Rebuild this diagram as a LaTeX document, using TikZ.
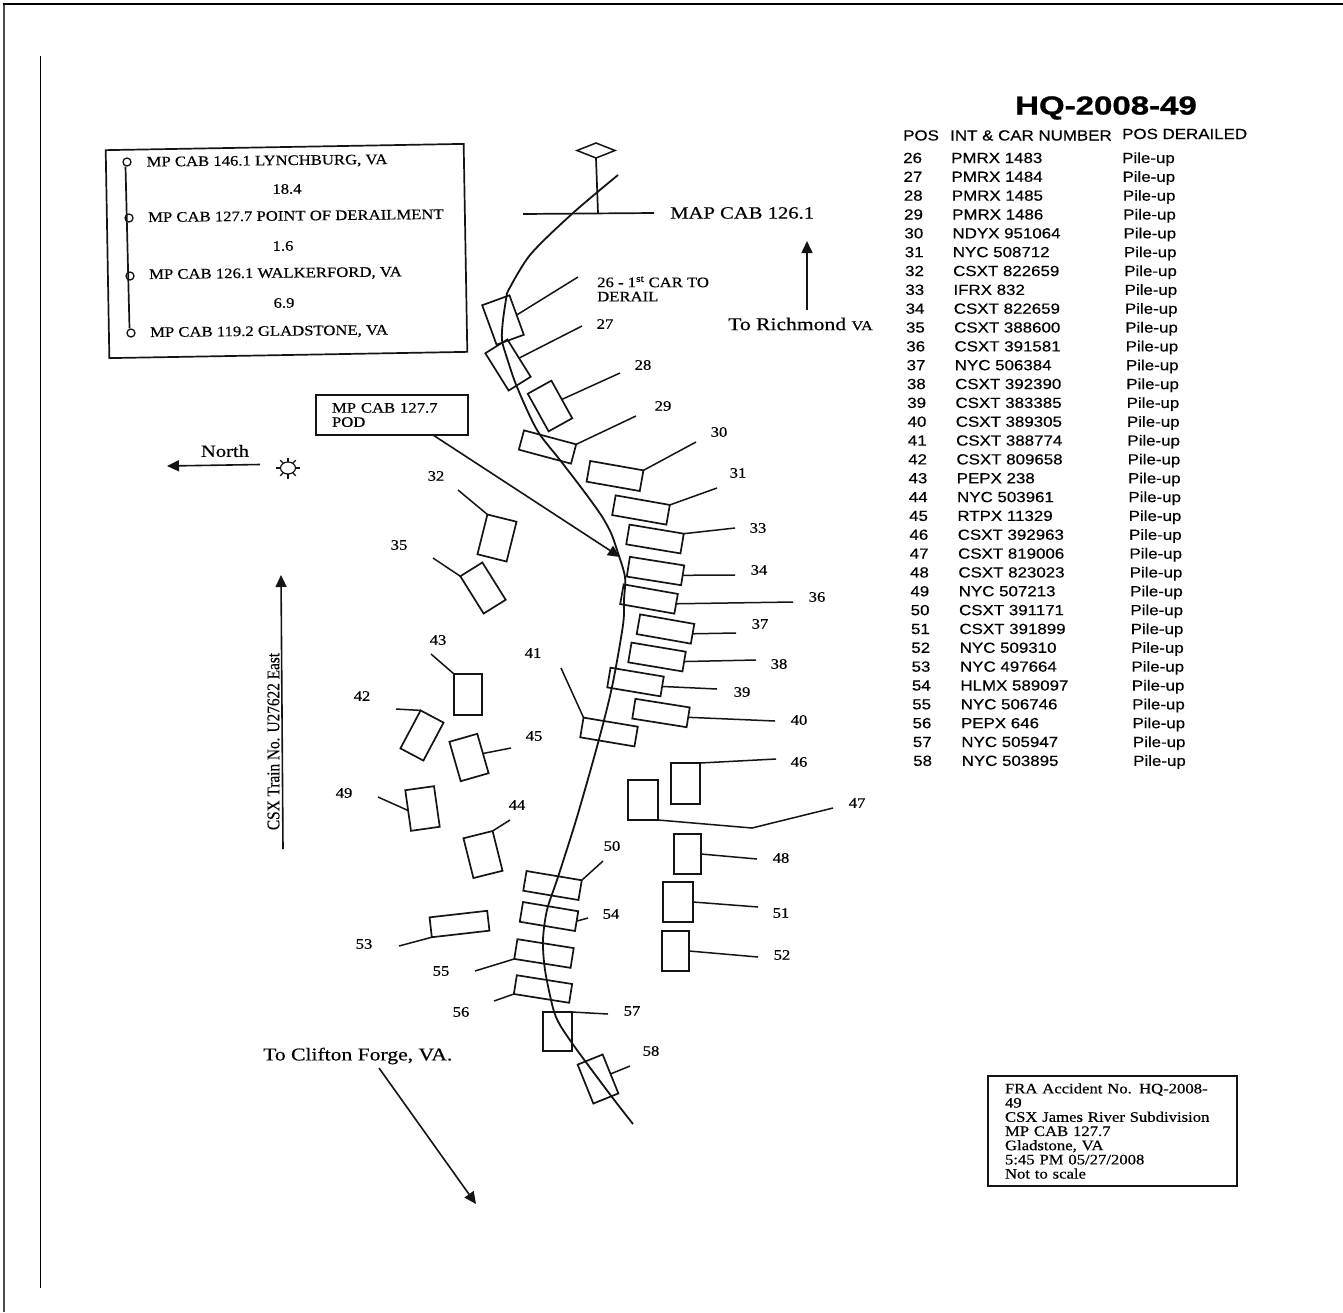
\documentclass[tikz,border=0pt]{standalone}
\usepackage{fontspec}
\usetikzlibrary{arrows.meta,shapes.geometric,calc}
\setmainfont{Liberation Serif}
\newfontfamily\serifbase[FakeStretch=1.15,FakeBold=0.45]{Liberation Serif}
\newfontfamily\serifwide[FakeStretch=1.2,FakeBold=0.45]{Liberation Serif}
\newfontfamily\serifnarrow[FakeStretch=0.85,FakeBold=0.25]{Liberation Serif}
\newfontfamily\sansbase[FakeStretch=1.15,FakeBold=0.35]{Liberation Sans}
\newfontfamily\sanstitle[FakeStretch=1.27,FakeBold=1]{Liberation Sans Bold}
\newcommand\lblf{\serifbase\fontsize{14.5}{14.2}\selectfont}
\newcommand\lblbigf{\serifwide\fontsize{18}{20}\selectfont}
\newcommand\lblmidf{\serifwide\fontsize{17.2}{20}\selectfont}
\newcommand\tblf{\sansbase\fontsize{14.7}{16}\selectfont}
\tikzset{
  ink/.style={draw=black!92,line width=1.7pt},
  carbox/.style={draw=black!92,line width=1.7pt,inner sep=0pt,outer sep=0pt},
  leader/.style={draw=black!92,line width=1.5pt},
  trackline/.style={draw=black!92,line width=1.8pt},
  arrowline/.style={draw=black!92,line width=1.6pt,-{Triangle[length=12pt,width=11pt]}},
  numlabel/.style={font=\lblf,inner sep=0pt},
  biglabel/.style={font=\lblbigf,inner sep=0pt},
  midlabel/.style={font=\lblmidf,inner sep=0pt},
  tbl/.style={font=\tblf,inner sep=0pt,anchor=base west},
  legtext/.style={font=\lblf,inner sep=0pt,anchor=base west,rotate=0.6},
  legcenter/.style={font=\lblf,inner sep=0pt,rotate=0.6},
  mark node/.style={circle,draw=black!92,line width=1.3pt,minimum size=8pt,inner sep=0pt,fill=white},
}
\begin{document}
\begin{tikzpicture}[x=1pt,y=-1pt]
\useasboundingbox (0,0) rectangle (1343,1312);
\fill[white] (0,0) rectangle (1343,1312);
% page frame
\draw[draw=black!70,line width=2pt] (3.5,1312) -- (3.5,4);
\draw[draw=black,line width=2pt] (3,4) -- (1343,4);
\draw[draw=black,line width=1.3pt] (40.5,56) -- (40.5,1288);

% legend box
\node[carbox,rotate=1,minimum width=358pt,minimum height=208pt] (legend) at (286.5,251) {};
\node[mark node] (m1) at (127,162) {};
\node[mark node] (m2) at (129,218) {};
\node[mark node] (m3) at (130,276) {};
\node[mark node] (m4) at (131,333) {};
\draw[ink] ([xshift=-1.5pt]m1.south) -- ([xshift=-1.5pt]m4.north);
\node[legtext] (l1) at (146.5,166.5) {MP CAB 146.1 LYNCHBURG, VA};
\node[legcenter] (l2) at (287,189) {18.4};
\node[legtext] (l3) at (148,222) {MP CAB 127.7 POINT OF DERAILMENT};
\node[legcenter] (l4) at (283,246) {1.6};
\node[legtext] (l5) at (149,279) {MP CAB 126.1 WALKERFORD, VA};
\node[legcenter] (l6) at (284,303) {6.9};
\node[legtext] (l7) at (150,337) {MP CAB 119.2 GLADSTONE, VA};

% milepost
\node[diamond,draw=black!92,line width=1.5pt,aspect=2.5,minimum width=38pt,minimum height=15pt,inner sep=0pt,outer sep=0pt] (post) at (596,150.5) {};
\coordinate (postfoot) at (598,213);
\coordinate (crossL) at (523,214);
\coordinate (crossR) at (654,213);
\draw[ink] (post.south) -- (postfoot);
\draw[ink] (crossL) -- (crossR);
\node[midlabel,anchor=west] (mapcab) at (670,213) {MAP CAB 126.1};

% track
\draw[trackline] plot[smooth,tension=0.5] coordinates {(618,175) (573,213) (530,255) (507,293)};
\draw[trackline] plot[smooth,tension=0.5] coordinates {(507,293) (503,320) (502,340) (507,358) (517,387) (537,430) (560,460) (583,490) (601,515) (611,533) (618,553) (625,577) (624,600) (623,625) (612,687) (598,743) (577,817) (558,877) (547,910) (543,940) (545,970) (553,1008) (560,1025) (577,1050) (612,1097) (633,1124)};

% cars: id / x / y / w / h / rotation / leader anchor / leader end / label position
\foreach \Ci/\Cx/\Cy/\Cw/\Chh/\Cr/\Ca/\Ex/\Ey/\Lx/\Ly in {
 26/503/320/29/42/20/east/578/277/0/0,
 27/508/365/26/44/32/east/582/326/605/324,
 28/550/406/27/43/29/east/620/373/643/365,
 29/547.5/447/54/20/-15/north east/636/416/663/406,
 30/615/476/54/21/-10/north east/696/442/719/432,
 31/641/510/55/20/-10/north east/717/488/738/473,
 32/497/538/30/41/-14/north west/458/490/436/476,
 33/655/539/55/20/-9.5/north east/735/528/758/528,
 34/655.5/571/55/20/-9/east/735/575/759/570,
 35/483/588/26/44/32/north west/433/558/399/545,
 36/649/599/55/20/-10/east/793/602/817/597,
 37/665.5/629/55/20/-10/east/736/633/760/624,
 38/657/657/55/20/-9.5/east/756/660/779/664,
 39/635.5/682/54/20/-9.5/east/717/689/742/692,
 40/661/713/55/20/-9/east/775/721/799/720,
 41/609/732/55/20/-9.5/north west/561/668/533/653,
 42/422/735.5/26/43/-28/north west/396/709/362/696,
 43/468/694.5/28/41/0/north west/431/654/438/640,
 44/483/854.5/30/41/14/north east/510/820/517/805,
 45/469/757.5/29/41/16/east/511/748/534/736,
 46/685.5/783.5/29/41/0/north east/776/759/799/762,
 48/687.5/854/27/40/0/east/757/859/781/858,
 49/422.5/808.5/29/41/8/west/378/797/344/793,
 50/552.5/885.5/56/20/-9.5/north east/603/861/612/846,
 51/678/902/30/40/0/east/758/907/781/913,
 52/675.5/951/27/40/0/east/758/957/782/955,
 53/459.5/924/58/20/6.5/south west/399/946/364/944,
 54/549/916.5/56/20/-9.5/east/588/918/611/914,
 55/544/953.5/57/20/-9/south west/475/971/441/971,
 56/543/989/56/19/-9/south west/494/1001/461/1012,
 57/557.5/1031.5/29/39/0/north east/608/1014/632/1011,
 58/598/1079/27/42/22/east/630/1066/651/1051}
{
  \node[carbox,rotate=\Cr,minimum width=\Cw pt,minimum height=\Chh pt] (c\Ci) at (\Cx,\Cy) {};
  \coordinate (e\Ci) at (\Ex,\Ey);
  \draw[leader] (c\Ci.\Ca) -- (e\Ci);
  \ifnum\Ci=26\relax\else
    \node[numlabel] (t\Ci) at (\Lx,\Ly) {\Ci};
  \fi
}
% car 47 with its bent leader
\node[carbox,minimum width=30pt,minimum height=40pt] (c47) at (643,800) {};
\coordinate (b47) at (752,828);
\coordinate (e47) at (833,808);
\draw[leader] (c47.south east) -- (b47) -- (e47);
\node[numlabel] (t47) at (857,803) {47};

\node[numlabel,anchor=north west,align=left] (t26) at (597,276) {26 - 1\textsuperscript{st} CAR TO\\DERAIL};

% directions
\node[biglabel,anchor=west] (richmond) at (728,324) {To Richmond {\fontsize{13.5}{14}\selectfont VA}};
\coordinate (richbase) at (807,310);
\coordinate (richtip) at (807,241);
\draw[arrowline] (richbase) -- (richtip);

\node[carbox,minimum width=152pt,minimum height=40pt,text width=120pt,inner xsep=16pt,align=left,font=\lblf] (pod) at (392,415) {MP CAB 127.7\\POD};
\coordinate (podtip) at (620,557);
\draw[arrowline] ($(pod.south west)!0.77!(pod.south east)$) -- (podtip);

\node[midlabel] (north) at (225,451) {North};
\node[ellipse,draw=black!92,line width=1.2pt,minimum width=15pt,minimum height=12pt,inner sep=0pt,outer sep=0pt] (sun) at (288,468) {};
\foreach \a in {0,45,...,315} {\draw[draw=black!92,line width=1.1pt] (sun.\a) -- ++(-\a:4.5);}
\coordinate (nbase) at (260,464.5);
\coordinate (ntip) at (167,466);
\draw[arrowline] (nbase) -- (ntip);

\coordinate (csxbase) at (283,849);
\coordinate (csxtip) at (281,575);
\draw[arrowline] (csxbase) -- (csxtip);
\node[rotate=90,font=\serifnarrow\fontsize{18}{20}\selectfont,inner sep=0pt] (csx) at (273.5,741.5) {CSX Train No. U27622 East};

\node[biglabel,anchor=west] (clifton) at (263,1056) {To Clifton Forge, VA.};
\coordinate (cliftonbase) at (379,1068);
\coordinate (cliftontip) at (476,1204);
\draw[arrowline] (cliftonbase) -- (cliftontip);

% title and table
\node[font=\sanstitle\fontsize{26}{28}\selectfont,inner sep=0pt] (title) at (1106,108) {HQ-2008-49};
\node[tbl] (h1) at (903,140.5) {POS};
\node[tbl] (h2) at (950,140.5) {INT \& CAR NUMBER};
\node[tbl] (h3) at (1122,139) {POS DERAILED};
\foreach \n/\num [count=\k from 0] in {26/PMRX 1483,27/PMRX 1484,28/PMRX 1485,29/PMRX 1486,30/NDYX 951064,31/NYC 508712,32/CSXT 822659,33/IFRX 832,34/CSXT 822659,35/CSXT 388600,36/CSXT 391581,37/NYC 506384,38/CSXT 392390,39/CSXT 383385,40/CSXT 389305,41/CSXT 388774,42/CSXT 809658,43/PEPX 238,44/NYC 503961,45/RTPX 11329,46/CSXT 392963,47/CSXT 819006,48/CSXT 823023,49/NYC 507213,50/CSXT 391171,51/CSXT 391899,52/NYC 509310,53/NYC 497664,54/HLMX 589097,55/NYC 506746,56/PEPX 646,57/NYC 505947,58/NYC 503895}
{
  \pgfmathsetmacro\rowy{163+18.84*\k}
  \pgfmathsetmacro\xa{903+10*\k/32}
  \pgfmathsetmacro\xb{951+10.5*\k/32}
  \pgfmathsetmacro\xc{1122+11*\k/32}
  \node[tbl] (pos\n) at (\xa,\rowy) {\n};
  \node[tbl] (num\n) at (\xb,\rowy) {\num};
  \node[tbl] (pile\n) at (\xc,\rowy) {Pile-up};
}

% accident stamp
\node[carbox,minimum height=110pt,text width=215pt,inner xsep=17pt,align=left,font=\lblf] (stamp) at (1112.5,1131) {FRA Accident No. HQ-2008-\\49\\CSX James River Subdivision\\MP CAB 127.7\\Gladstone, VA\\5:45 PM 05/27/2008\\Not to scale};
\end{tikzpicture}
\end{document}
